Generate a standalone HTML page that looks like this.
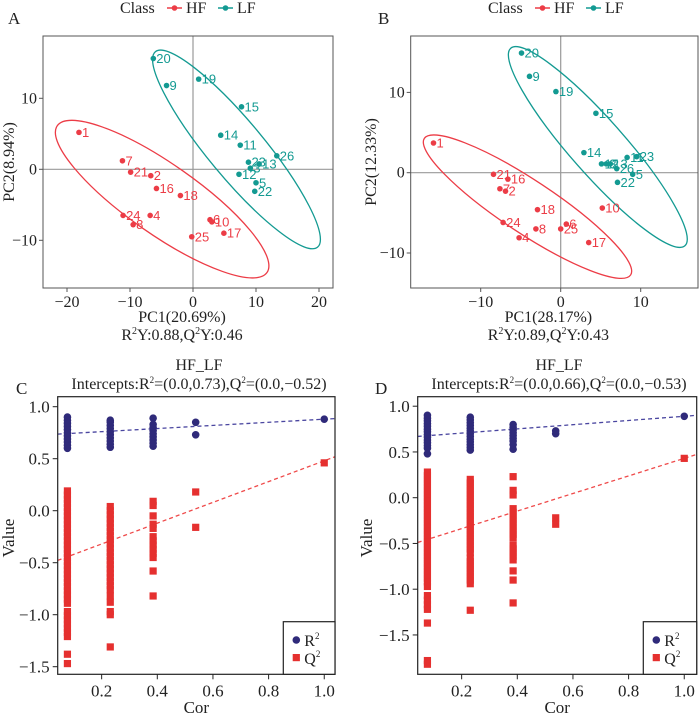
<!DOCTYPE html>
<html><head><meta charset="utf-8">
<style>
body{margin:0;background:#fff;}
svg{display:block;font-family:"Liberation Serif",serif;}
.pl{font-family:"Liberation Sans",sans-serif;font-size:13px;}
</style></head>
<body>
<svg id="fig" width="700" height="715" viewBox="0 0 700 715" xmlns="http://www.w3.org/2000/svg"></svg>
<script>
// ---- Panel A data ----
const aHFlabels=["1","7","21","2","16","18","24","4","8","6","10","25","17"];
const aHFx=[-18.1,-11.2,-9.9,-6.7,-5.8,-2.0,-11.1,-6.8,-9.5,2.7,3.0,-0.2,4.9];
const aHFy=[5.2,1.2,-0.4,-0.9,-2.7,-3.7,-6.5,-6.5,-7.8,-7.1,-7.4,-9.5,-9.0];
const aLFlabels=["20","9","19","15","14","11","23","3","13","12","5","22","26"];
const aLFx=[-6.3,-4.2,0.9,7.7,4.4,7.5,8.8,9.1,10.5,7.3,10.0,9.8,13.3];
const aLFy=[15.6,11.8,12.7,8.8,4.8,3.4,1.0,0.15,0.75,-0.7,-1.9,-3.1,1.9];
const aXticks=[-20,-10,0,10,20];
const aYticks=[-10,0,10];
// ---- Panel B data ----
const bHFlabels=["1","21","16","7","2","18","24","8","4","6","25","17","10"];
const bHFx=[-15.9,-8.4,-6.6,-7.6,-6.9,-2.9,-7.2,-3.1,-5.2,0.7,0.0,3.5,5.2];
const bHFy=[3.7,-0.2,-0.8,-2.0,-2.3,-4.6,-6.2,-7.0,-8.1,-6.4,-7.0,-8.7,-4.4];
const bLFlabels=["20","9","19","15","14","12","3","13","26","11","23","5","22"];
const bLFx=[-4.9,-3.9,-0.6,4.4,2.9,5.1,5.7,6.2,7.0,8.3,9.5,9.0,7.1];
const bLFy=[14.9,12.0,10.1,7.4,2.5,1.1,1.1,1.1,0.5,1.9,2.0,-0.2,-1.2];
const bXticks=[-10,0,10];
const bYticks=[-10,0,10];
// ---- Panel C data ----
const cCor=[0.077,0.231,0.385,0.538,1.0];
const cR2c1=[0.6,0.63,0.66,0.69,0.72,0.75,0.78,0.81,0.84,0.87,0.9];
const cR2c2=[0.61,0.64,0.67,0.7,0.73,0.76,0.79,0.82,0.85,0.87];
const cR2c3=[0.62,0.65,0.68,0.71,0.74,0.77,0.8,0.83,0.89];
const cR2c4=[0.73,0.85];
const cR2c5=[0.88];
const cQ2c1=[0.19,0.15,0.11,0.07,0.03,-0.01,-0.05,-0.09,-0.13,-0.17,-0.21,-0.25,-0.29,-0.33,-0.37,-0.41,-0.45,-0.49,-0.53,-0.57,-0.61,-0.65,-0.69,-0.73,-0.77,-0.81,-0.85,-0.89,-0.97,-1.01,-1.05,-1.09,-1.13,-1.17,-1.21,-1.38,-1.47];
const cQ2c2=[0.04,0.0,-0.04,-0.08,-0.12,-0.16,-0.2,-0.24,-0.28,-0.32,-0.36,-0.4,-0.44,-0.48,-0.52,-0.56,-0.6,-0.64,-0.68,-0.72,-0.76,-0.82,-0.88,-0.97,-1.0,-1.31];
const cQ2c3=[0.09,0.05,-0.05,-0.13,-0.17,-0.25,-0.29,-0.33,-0.37,-0.41,-0.45,-0.58,-0.82];
const cQ2c4=[0.18,-0.16];
const cQ2c5=[0.46];
const cR2int=0.73, cR2end=0.88, cQ2int=-0.52, cQ2end=0.48;
const cXticks=[0.2,0.4,0.6,0.8,1.0];
const cYticks=[1.0,0.5,0.0,-0.5,-1.0,-1.5];
// ---- Panel D data ----
const dR2c1=[0.48,0.54,0.57,0.6,0.63,0.66,0.69,0.72,0.75,0.78,0.81,0.84,0.87,0.9];
const dR2c2=[0.52,0.55,0.58,0.61,0.64,0.67,0.7,0.73,0.76,0.79,0.82,0.85,0.88];
const dR2c3=[0.53,0.58,0.62,0.65,0.68,0.71,0.74,0.77,0.8];
const dR2c4=[0.7,0.73];
const dR2c5=[0.89];
const dQ2c1=[0.28,0.24,0.2,0.16,0.12,0.08,0.04,0.0,-0.04,-0.08,-0.12,-0.16,-0.2,-0.24,-0.28,-0.32,-0.36,-0.4,-0.44,-0.48,-0.52,-0.56,-0.6,-0.64,-0.68,-0.72,-0.76,-0.8,-0.84,-0.88,-0.92,-0.97,-1.07,-1.12,-1.17,-1.22,-1.37,-1.78,-1.82];
const dQ2c2=[0.2,0.16,0.12,0.08,0.04,0.0,-0.04,-0.08,-0.12,-0.16,-0.2,-0.24,-0.28,-0.32,-0.36,-0.4,-0.44,-0.48,-0.52,-0.56,-0.6,-0.66,-0.7,-0.74,-0.78,-0.82,-0.86,-0.9,-0.94,-1.23];
const dQ2c3=[0.23,0.08,0.03,-0.12,-0.16,-0.2,-0.24,-0.28,-0.32,-0.36,-0.4,-0.44,-0.52,-0.56,-0.6,-0.64,-0.68,-0.8,-0.9,-1.15];
const dQ2c4=[-0.22,-0.29];
const dQ2c5=[0.43];
const dR2int=0.66, dR2end=0.89, dQ2int=-0.53, dQ2end=0.43;
const dYticks=[1.0,0.5,0.0,-0.5,-1.0,-1.5];

const NS="http://www.w3.org/2000/svg";
const svg=document.getElementById('fig');
function mk(tag,attrs,parent,txt){const e=document.createElementNS(NS,tag);for(const k in attrs)e.setAttribute(k,attrs[k]);if(txt!==undefined)e.textContent=txt;(parent||svg).appendChild(e);return e;}
const RED="#ec3c46", TEAL="#139a92", NAVY="#2f2a7a", QRED="#e5302f";
function fmt(v){return (v<0?"\u2212":"")+Math.abs(v).toFixed(1);}
function fmtI(v){return (v<0?"\u2212":"")+Math.abs(v);}

function pcaPanel(P){
  const g=mk('g',{});
  
  
  const X=v=>P.x0+P.sx*v, Y=v=>P.y0-P.sy*v;
  // zero lines
  const zv=mk('line',{x1:X(0),x2:X(0),y1:P.top,y2:P.bot,stroke:"#999","stroke-width":1.2},g);
  
  const zh=mk('line',{x1:P.left,x2:P.right,y1:Y(0),y2:Y(0),stroke:"#999","stroke-width":1.2},g);
  
  // ellipses
  P.ell.forEach(e=>{
    const el=mk('ellipse',{cx:X(e.cx),cy:Y(e.cy),rx:e.a,ry:e.b,transform:`rotate(${e.t} ${X(e.cx)} ${Y(e.cy)})`,fill:"none",stroke:e.c,"stroke-width":1.3},g);
    
  });
  // points
  function pts(xs,ys,ls,col,grp){
    xs.forEach((xv,i)=>{
      const c=mk('circle',{cx:X(xv),cy:Y(ys[i]),r:2.8,fill:col},g);
      
      
      const t=mk('text',{x:X(xv)+3,y:Y(ys[i])+4.5,fill:col,class:'pl'},g,ls[i]);
      
      
    });
  }
  pts(P.hx,P.hy,P.hl,RED,'hf');
  pts(P.lx,P.ly,P.ll,TEAL,'lf');
  const box=mk('rect',{x:P.left,y:P.top,width:P.right-P.left,height:P.bot-P.top,fill:"none",stroke:"#555","stroke-width":1},g);
  
  P.xt.forEach(v=>{
    mk('line',{x1:X(v),x2:X(v),y1:P.bot,y2:P.bot+4,stroke:"#555"},g);
    const t=mk('text',{x:X(v),y:P.bot+19,"text-anchor":"middle","font-size":16,fill:"#222"},g,fmtI(v));
    
  });
  P.yt.forEach(v=>{
    mk('line',{x1:P.left-4,x2:P.left,y1:Y(v),y2:Y(v),stroke:"#555"},g);
    const t=mk('text',{x:P.left-6,y:Y(v)+5,"text-anchor":"end","font-size":16,fill:"#222"},g,fmtI(v));
    
  });
  const xl=mk('text',{x:(P.left+P.right)/2-6,y:322,"text-anchor":"middle","font-size":16,fill:"#222"},g,P.xlab);
  
  const sub=mk('text',{x:(P.left+P.right)/2-6,y:340,"text-anchor":"middle","font-size":16,fill:"#222"},g);
  
  sub.innerHTML=P.sub;
  const yl=mk('text',{x:0,y:0,transform:`translate(${P.ylx},${(P.top+P.bot)/2}) rotate(-90)`,"text-anchor":"middle","font-size":16,fill:"#222"},g,P.ylab);
  
  const pl=mk('text',{x:P.plx,y:24,"font-size":17,fill:"#222"},g,P.letter);
  
  // class legend
  const lg=mk('g',{},g);
  
  mk('text',{x:P.lgx,y:13,"font-size":16,fill:"#222"},lg,"Class");
  [[RED,"HF",P.lgx+47],[TEAL,"LF",P.lgx+98]].forEach(([c,n,x])=>{
    mk('line',{x1:x,x2:x+15,y1:8,y2:8,stroke:c,"stroke-width":1.5},lg);
    mk('circle',{cx:x+7.5,cy:8,r:2.8,fill:c},lg);
    const t=mk('text',{x:x+19,y:13,"font-size":16,fill:"#222"},lg,n);
    
    
  });
}

pcaPanel({name:'panel-a-pca',x0:193,sx:6.3,y0:169.3,sy:7.1,left:43,right:333,top:36,bot:288,
  hx:aHFx,hy:aHFy,hl:aHFlabels,lx:aLFx,ly:aLFy,ll:aLFlabels,xt:aXticks,yt:aYticks,
  ell:[{cx:-4.9,cy:-4.2,a:128,b:35,t:35,c:RED,n:'hf-ellipse'},{cx:6.9,cy:2.8,a:127,b:28,t:50.3,c:TEAL,n:'lf-ellipse'}],
  xlab:"PC1(20.69%)",sub:'R<tspan font-size="10" dy="-6">2</tspan><tspan dy="6">Y:0.88,Q</tspan><tspan font-size="10" dy="-6">2</tspan><tspan dy="6">Y:0.46</tspan>',
  ylab:"PC2(8.94%)",ylx:14,plx:8,letter:"A",lgx:120});
pcaPanel({name:'panel-b-pca',x0:560.7,sx:8,y0:172.7,sy:8.03,left:410.7,right:698,top:36,bot:288,
  hx:bHFx,hy:bHFy,hl:bHFlabels,lx:bLFx,ly:bLFy,ll:bLFlabels,xt:bXticks,yt:bYticks,
  ell:[{cx:-4.15,cy:-4.23,a:123.7,b:26.4,t:33.5,c:RED,n:'hf-ellipse'},{cx:4.64,cy:3.2,a:131.7,b:27.2,t:48.6,c:TEAL,n:'lf-ellipse'}],
  xlab:"PC1(28.17%)",sub:'R<tspan font-size="10" dy="-6">2</tspan><tspan dy="6">Y:0.89,Q</tspan><tspan font-size="10" dy="-6">2</tspan><tspan dy="6">Y:0.43</tspan>',
  ylab:"PC2(12.33%)",ylx:376,plx:378,letter:"B",lgx:488});

function permPanel(P){
  const g=mk('g',{});
  
  
  const X=v=>P.x0+P.sx*v, Y=v=>P.y0-P.sy*v;
  // regression lines
  const xa=(P.left-P.x0)/P.sx, xb=(P.right-P.x0)/P.sx;
  const rl=mk('line',{x1:P.left,y1:Y(P.r2i+(P.r2e-P.r2i)*xa),x2:P.right,y2:Y(P.r2i+(P.r2e-P.r2i)*xb),stroke:"#4a46a0","stroke-width":1.3,"stroke-dasharray":"4 3"},g);
  
  const ql=mk('line',{x1:P.left,y1:Y(P.q2i+(P.q2e-P.q2i)*xa),x2:P.right,y2:Y(P.q2i+(P.q2e-P.q2i)*xb),stroke:"#ef4a4a","stroke-width":1.3,"stroke-dasharray":"4 3"},g);
  
  P.q2.forEach((col,ci)=>col.forEach(v=>{
    const s=mk('rect',{x:X(cCor[ci])-3.6,y:Y(v)-3.6,width:7.2,height:7.2,fill:QRED},g);
    
  }));
  P.r2.forEach((col,ci)=>col.forEach(v=>{
    const c=mk('circle',{cx:X(cCor[ci]),cy:Y(v),r:3.8,fill:NAVY},g);
    
  }));
  const box=mk('rect',{x:P.left,y:P.top,width:P.right-P.left,height:P.bot-P.top,fill:"none",stroke:"#222","stroke-width":1.2},g);
  
  cXticks.forEach(v=>{
    mk('line',{x1:X(v),x2:X(v),y1:P.bot,y2:P.bot+5,stroke:"#222"},g);
    const t=mk('text',{x:X(v),y:P.bot+22,"text-anchor":"middle","font-size":17,fill:"#222"},g,v.toFixed(1));
    
  });
  P.yt.forEach(v=>{
    mk('line',{x1:P.left-5,x2:P.left,y1:Y(v),y2:Y(v),stroke:"#222"},g);
    const t=mk('text',{x:P.left-8,y:Y(v)+6,"text-anchor":"end","font-size":17,fill:"#222"},g,fmt(v));
    
  });
  const xl=mk('text',{x:(P.left+P.right)/2,y:713,"text-anchor":"middle","font-size":17,fill:"#222"},g,"Cor");
  
  const yl=mk('text',{x:0,y:0,transform:`translate(${P.ylx},538) rotate(-90)`,"text-anchor":"middle","font-size":17,fill:"#222"},g,"Value");
  
  const t1=mk('text',{x:P.tx,y:370,"text-anchor":"middle","font-size":16,fill:"#222"},g,"HF_LF");
  
  const t2=mk('text',{x:P.tx,y:389,"text-anchor":"middle","font-size":16,fill:"#222"},g);
  
  t2.innerHTML=P.sub;
  const pl=mk('text',{x:P.plx,y:394,"font-size":17,fill:"#222"},g,P.letter);
  
  const lg=mk('g',{},g);
  
  mk('rect',{x:P.lgx,y:621.7,width:P.right-P.lgx,height:P.bot-621.7,fill:"#fff",stroke:"#222","stroke-width":1.2},lg);
  mk('circle',{cx:P.lgx+13,cy:640,r:3.8,fill:NAVY},lg);
  mk('rect',{x:P.lgx+9.4,y:654,width:7.2,height:7.2,fill:QRED},lg);
  const e1=mk('text',{x:P.lgx+21,y:646,"font-size":16,fill:"#222"},lg);
  e1.innerHTML='R<tspan font-size="9" dy="-7">2</tspan>';
  
  const e2=mk('text',{x:P.lgx+21,y:664,"font-size":16,fill:"#222"},lg);
  e2.innerHTML='Q<tspan font-size="9" dy="-7">2</tspan>';
  
}
permPanel({name:'panel-c-permutation',x0:46,sx:278.25,y0:510.7,sy:104,left:57.7,right:335,top:396.7,bot:674.3,
  r2:[cR2c1,cR2c2,cR2c3,cR2c4,cR2c5],q2:[cQ2c1,cQ2c2,cQ2c3,cQ2c4,cQ2c5],
  r2i:cR2int,r2e:cR2end,q2i:cQ2int,q2e:cQ2end,yt:cYticks,ylx:14,tx:199,plx:16,letter:"C",lgx:283.3,
  sub:'Intercepts:R<tspan font-size="9" dy="-6">2</tspan><tspan dy="6">=(0.0,0.73),Q</tspan><tspan font-size="9" dy="-6">2</tspan><tspan dy="6">=(0.0,\u22120.52)</tspan>'});
permPanel({name:'panel-d-permutation',x0:406,sx:278.25,y0:497.7,sy:91.5,left:417.7,right:696.7,top:396.7,bot:674.3,
  r2:[dR2c1,dR2c2,dR2c3,dR2c4,dR2c5],q2:[dQ2c1,dQ2c2,dQ2c3,dQ2c4,dQ2c5],
  r2i:dR2int,r2e:dR2end,q2i:dQ2int,q2e:dQ2end,yt:dYticks,ylx:372,tx:559,plx:375,letter:"D",lgx:643.3,
  sub:'Intercepts:R<tspan font-size="9" dy="-6">2</tspan><tspan dy="6">=(0.0,0.66),Q</tspan><tspan font-size="9" dy="-6">2</tspan><tspan dy="6">=(0.0,\u22120.53)</tspan>'});
</script>
</body></html>
